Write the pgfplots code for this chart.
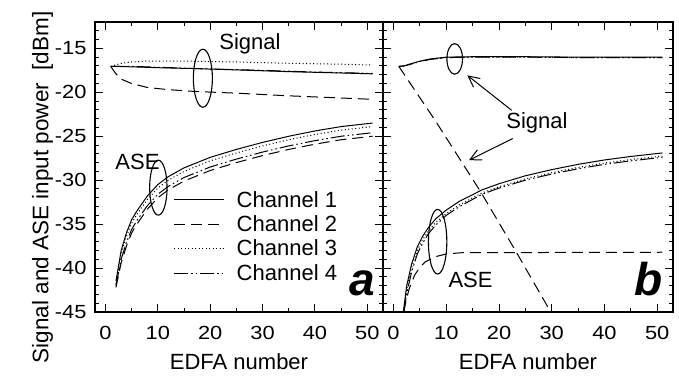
\documentclass[border=0pt]{standalone}
\usepackage{pgfplots}
\pgfplotsset{compat=1.18}
\usepackage{fontspec}
\setmainfont{Liberation Sans}
\usepackage{graphicx}
\usetikzlibrary{arrows.meta}

\newcommand{\tfont}{\fontsize{19}{22}\selectfont}
\newcommand{\lfont}{\fontsize{22}{26}\selectfont}
\newcommand{\bigfont}{\fontsize{46}{50}\selectfont\bfseries\itshape}

\pgfplotsset{
  common/.style={
    scale only axis, height=290pt,
    xmin=-2, xmax=53, ymin=-45, ymax=-12,
    xtick={0,10,...,50}, minor xtick={5,15,25,35,45},
    ytick={-45,-40,...,-15}, minor ytick={-45,-44,...,-12},
    tick align=inside, major tick length=8pt, minor tick length=4pt,
    axis line style={line width=1.3pt},
    every tick/.style={line width=1pt, black},
    xtick pos=both, ytick pos=both, xticklabel pos=left,
    tick label style={font=\tfont},
    xticklabel={\scalebox{1.15}[1]{\pgfmathprintnumber[assume math mode=true]{\tick}}},
    xticklabel style={yshift=-11pt},
    xlabel={EDFA number}, xlabel style={font=\lfont, yshift=-7pt},
  },
  ch1/.style={black, line width=1pt, solid},
  ch2/.style={black, line width=1pt, dash pattern=on 11pt off 6pt},
  ch3/.style={black, line width=1pt, dash pattern=on 1pt off 2.5pt},
  ch4/.style={black, line width=1pt, dash pattern=on 14pt off 3pt on 1.5pt off 3pt on 1.5pt off 3pt},
}

\begin{document}
\begin{tikzpicture}
% ---------------- panel a ----------------
\begin{axis}[common, width=288pt,
  yticklabel={\scalebox{1.15}[1]{\pgfmathprintnumber[assume math mode=true]{\tick}}},
  yticklabel pos=left, yticklabel style={xshift=-5pt},
  ylabel={Signal and ASE input power\ \ [dBm]},
  ylabel style={font=\fontsize{22.5}{26}\selectfont, at={(ticklabel cs:0.43)}},
  ylabel shift=-5pt,
  legend style={at={(axis cs:13.0,-31.0)}, anchor=north west, draw=none, fill=none,
    font=\lfont, inner sep=0pt, row sep=3pt,
    /tikz/every odd column/.append style={column sep=10pt}},
  legend cell align=left,
  legend image code/.code={\draw[#1] (0pt,0pt) -- (50pt,0pt);},
]
% ASE
\addplot[ch1] coordinates {(2,-41.5)(3,-38)(4,-36)(5,-34.5)(6,-33.5)(8,-31.8)(10,-30.5)(12,-29.6)(15,-28.6)(20,-27.4)(25,-26.5)(30,-25.7)(35,-25.0)(40,-24.4)(45,-23.9)(51,-23.5)};
\addlegendentry{Channel 1}
\addplot[ch2] coordinates {(2,-42.2)(3,-39.4)(4,-37.5)(5,-36.0)(6,-35.0)(8,-33.3)(10,-32.0)(12,-31.1)(15,-30.1)(20,-28.9)(25,-28.0)(30,-27.2)(35,-26.5)(40,-25.9)(45,-25.4)(51,-25.0)};
\addlegendentry{Channel 2}
\addplot[ch3] coordinates {(2,-41.8)(3,-38.4)(4,-36.4)(5,-34.9)(6,-33.9)(8,-32.2)(10,-30.9)(12,-30.0)(15,-29.0)(20,-27.8)(25,-26.9)(30,-26.1)(35,-25.4)(40,-24.8)(45,-24.3)(51,-23.9)};
\addlegendentry{Channel 3}
\addplot[ch4] coordinates {(2,-42.0)(3,-39.0)(4,-37.1)(5,-35.6)(6,-34.6)(8,-32.9)(10,-31.6)(12,-30.7)(15,-29.7)(20,-28.5)(25,-27.6)(30,-26.8)(35,-26.1)(40,-25.5)(45,-25.0)(51,-24.6)};
\addlegendentry{Channel 4}
% Signal
\addplot[ch1, forget plot] coordinates {(1,-17.05)(2,-17.05)(5,-17.1)(10,-17.2)(17,-17.3)(25,-17.45)(35,-17.65)(45,-17.8)(51,-17.9)};
\addplot[ch2, forget plot] coordinates {(1,-17.05)(2,-17.9)(3,-18.5)(5,-19.0)(8,-19.45)(12,-19.7)(17,-19.9)(25,-20.1)(35,-20.4)(45,-20.65)(51,-20.8)};
\addplot[ch3, forget plot] coordinates {(1,-17.05)(3,-16.7)(5,-16.55)(8,-16.45)(15,-16.45)(25,-16.55)(35,-16.7)(45,-16.8)(51,-16.9)};
\addplot[ch4, forget plot] coordinates {(1,-17.05)(5,-17.05)(10,-17.15)(20,-17.35)(30,-17.5)(40,-17.7)(51,-17.85)};
% annotations
\node[font=\lfont] at (axis cs:27.6,-14.45) {Signal};
\draw[line width=1.1pt] (axis cs:18.6,-18.4) ellipse [x radius=9.5pt, y radius=29pt];
\node[font=\lfont] at (axis cs:6.1,-27.95) {ASE};
\draw[line width=1.1pt] (axis cs:10.1,-30.85) ellipse [x radius=8.7pt, y radius=27.5pt];
\node[font=\bigfont, inner sep=0pt] at (axis cs:49,-41.7) {a};
\end{axis}
% ---------------- panel b ----------------
\begin{axis}[common, width=290pt, at={(288pt,0pt)}, anchor=south west,
  yticklabels={}, 
]
\addplot[ch1] coordinates {(1.85,-45)(2.5,-42)(3.4,-39.6)(4.5,-37.6)(5.5,-36.4)(6.6,-35.4)(8,-34.4)(10,-33.4)(12.5,-32.4)(16.8,-31.1)(20,-30.4)(25,-29.5)(30,-28.8)(35,-28.2)(40,-27.7)(45,-27.3)(51,-26.9)};
\addplot[ch3] coordinates {(1.9,-45)(2.5,-42.4)(3.4,-40.0)(4.5,-38.0)(5.5,-36.8)(6.6,-35.8)(8,-34.8)(10,-33.8)(12.5,-32.8)(16.8,-31.45)(20,-30.75)(25,-29.85)(30,-29.15)(35,-28.55)(40,-28.05)(45,-27.65)(51,-27.25)};
\addplot[ch4] coordinates {(1.95,-45)(2.5,-42.9)(3.4,-40.5)(4.5,-38.4)(5.5,-37.2)(6.6,-36.1)(8,-35.1)(10,-34.0)(12.5,-33.0)(16.8,-31.6)(20,-30.9)(25,-30.0)(30,-29.3)(35,-28.7)(40,-28.2)(45,-27.8)(51,-27.4)};
\addplot[ch2] coordinates {(1.9,-45)(2.5,-43.4)(3,-42.3)(4,-40.8)(5,-39.9)(6,-39.3)(8,-38.7)(10,-38.4)(13,-38.25)(51,-38.2)};
% Signal
\addplot[ch1] coordinates {(1,-17.05)(2,-17.0)(3,-16.8)(5,-16.45)(7,-16.2)(10,-16.0)(15,-15.95)(25,-15.95)(35,-16.0)(51,-16.0)};
\addplot[ch3] coordinates {(1,-17.05)(2,-17.0)(3,-16.85)(5,-16.5)(7,-16.25)(10,-16.05)(15,-16.0)(25,-16.0)(35,-16.05)(51,-16.05)};
\addplot[ch4] coordinates {(1,-17.05)(2,-17.0)(3,-16.85)(5,-16.5)(7,-16.25)(10,-16.05)(15,-16.0)(25,-16.0)(35,-16.05)(51,-16.05)};
\addplot[ch2] coordinates {(1,-17.05)(8,-23.3)(16.5,-31.3)(23.2,-38.1)(30,-45.2)};
% annotations
\draw[line width=1.1pt] (axis cs:11.6,-16.2) ellipse [x radius=7.8pt, y radius=15.3pt];
\node[font=\lfont] at (axis cs:27.2,-23.5) {Signal};
\draw[line width=1pt, -{Straight Barb[length=11pt,width=11pt]}] (axis cs:22.4,-22.05) -- (axis cs:14.0,-18.07);
\draw[line width=1pt, -{Straight Barb[length=11pt,width=11pt]}] (axis cs:22.6,-25.26) -- (axis cs:14.3,-27.73);
\draw[line width=1.1pt] (axis cs:8.36,-37.0) ellipse [x radius=9.2pt, y radius=32.3pt];
\node[font=\lfont] at (axis cs:14.6,-41.4) {ASE};
\node[font=\bigfont, inner sep=0pt] at (axis cs:48.4,-41.2) {b};
\end{axis}
\pgfresetboundingbox
\useasboundingbox (-95pt,-68pt) rectangle (584pt,312pt);
\end{tikzpicture}
\end{document}
